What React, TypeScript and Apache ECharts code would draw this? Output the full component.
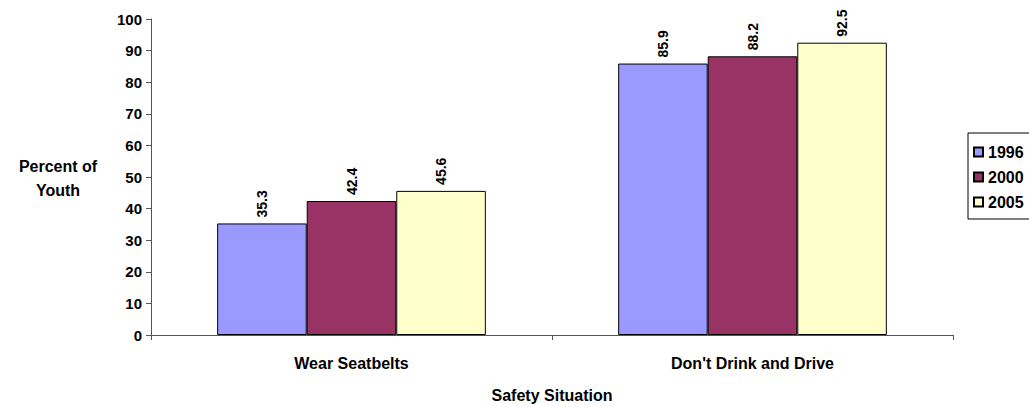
import React, { useEffect, useRef } from "react";
import * as echarts from "echarts";

const categories = ["Wear Seatbelts", "Don't Drink and Drive"];
const seriesNames = ["1996", "2000", "2005"];
const values1996 = [35.3, 85.9];
const values2000 = [42.4, 88.2];
const values2005 = [45.6, 92.5];
const colors = ["#9999FF", "#993366", "#FFFFCC"];

const FONT = "'Liberation Sans', Arial, sans-serif";

export default function App() {
  const ref = useRef<HTMLDivElement>(null);
  useEffect(() => {
    if (!ref.current) return;
    const chart = echarts.init(ref.current, null, { renderer: "svg" });
    const data = [values1996, values2000, values2005];
    chart.setOption({
      animation: false,
      textStyle: { fontFamily: FONT },
      grid: { left: 151, right: 76, top: 19, bottom: 72 },
      legend: {
        orient: "vertical",
        left: 968,
        top: 133,
        padding: [11, 30, 9, 5],
        itemGap: 9,
        itemWidth: 9,
        itemHeight: 9,
        icon: "rect",
        borderColor: "#000",
        borderWidth: 1,
        textStyle: { fontFamily: FONT, fontWeight: "bold", fontSize: 16, color: "#000" },
        data: seriesNames,
      },
      xAxis: {
        type: "category",
        data: categories,
        axisLine: { lineStyle: { color: "#555", width: 1 } },
        axisTick: { show: true, length: 5, lineStyle: { color: "#555" } },
        axisLabel: {
          margin: 20,
          fontFamily: FONT,
          fontWeight: "bold",
          fontSize: 16,
          color: "#000",
        },
      },
      yAxis: {
        type: "value",
        min: 0,
        max: 100,
        interval: 10,
        axisLine: { show: true, lineStyle: { color: "#555", width: 1 } },
        axisTick: { show: true, length: 5, lineStyle: { color: "#555" } },
        splitLine: { show: false },
        axisLabel: {
          margin: 9,
          fontFamily: FONT,
          fontWeight: "bold",
          fontSize: 15,
          color: "#000",
        },
      },
      graphic: [
        {
          type: "text",
          x: 58,
          y: 154,
          style: {
            text: "Percent of\nYouth",
            align: "center",
            verticalAlign: "top",
            fontFamily: FONT,
            fontWeight: "bold",
            fontSize: 16,
            lineHeight: 24,
            fill: "#000",
          },
        },
        {
          type: "text",
          x: 552,
          y: 395,
          style: {
            text: "Safety Situation",
            align: "center",
            verticalAlign: "middle",
            fontFamily: FONT,
            fontWeight: "bold",
            fontSize: 16,
            fill: "#000",
          },
        },
      ],
      series: seriesNames.map((name, i) => ({
        name,
        type: "bar",
        data: data[i],
        barGap: "0%",
        barCategoryGap: "33%",
        itemStyle: { color: colors[i], borderColor: "#000", borderWidth: 1 },
        label: {
          show: true,
          position: "top",
          rotate: 90,
          align: "left",
          verticalAlign: "middle",
          distance: 6,
          fontFamily: FONT,
          fontWeight: "bold",
          fontSize: 14,
          color: "#000",
        },
      })),
    });
    return () => chart.dispose();
  }, []);
  return <div ref={ref} style={{ width: 1029, height: 407, position: "absolute", left: 0, top: 0 }} />;
}
